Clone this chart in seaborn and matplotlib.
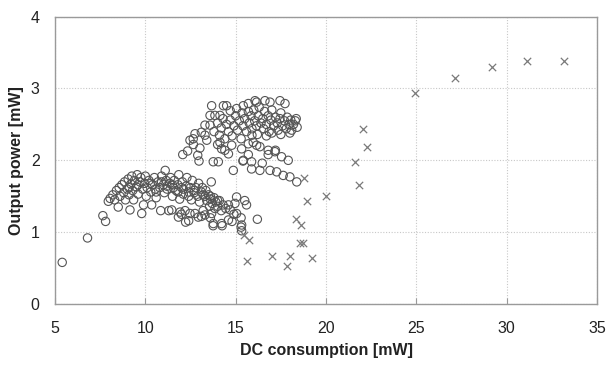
import matplotlib
matplotlib.use("Agg")
import matplotlib.pyplot as plt
import seaborn as sns
import pandas as pd

# circles (measured set)
circ_x = [5.4, 6.8, 7.65, 7.8,
          7.95, 8.05, 8.2, 8.3, 8.4, 8.5, 8.55, 8.6, 8.7, 8.8, 8.85, 8.9, 9.0, 9.05, 9.1, 9.15,
          9.2, 9.25, 9.3, 9.35, 9.4, 9.5, 9.55, 9.6, 9.7, 9.75, 9.8, 9.85, 9.9, 9.95, 10.0, 10.05,
          10.1, 10.2, 10.3, 10.35, 10.4, 10.5, 10.55, 10.6, 10.7, 10.8, 10.85, 10.9, 11.0, 11.05,
          11.1, 11.15, 11.2, 11.3, 11.35, 11.4, 11.5, 11.55, 11.6, 11.7, 11.8, 11.85, 11.9, 12.0,
          12.05, 12.1, 12.2, 12.25, 12.3, 12.4, 12.5, 12.55, 12.6, 12.7, 12.75, 12.8, 12.9, 12.95,
          13.0, 13.1, 13.15, 13.2, 13.3, 13.35, 13.4, 13.5, 13.55, 13.6, 13.65, 13.7, 13.8, 13.85,
          13.9, 14.0, 14.1, 14.2, 14.3, 14.45, 13.75, 14.25, 14.8, 14.6, 14.9, 15.3, 15.6, 16.2,
          15.3, 12.4, 13.1, 13.6, 12.0, 11.83, 12.23, 13.76, 14.22, 14.6, 15.33, 15.33, 14.96,
          15.05, 15.5, 14.7, 15.05, 13.3, 13.67, 12.47, 12.93, 11.46, 11.92,
          9.6, 10.3, 10.9, 11.5, 12.1, 12.7, 13.2, 13.6, 14.0, 9.1, 10.6, 11.2, 11.8, 12.4,
          # upper cluster
          12.07, 12.34, 12.47, 12.65, 12.66, 12.75, 12.9, 13.02, 12.97, 13.1, 13.3, 13.4, 13.3,
          13.58, 13.58, 13.85, 14.13, 13.67, 14.32, 14.5, 14.7, 15.05, 15.42, 15.7, 16.16, 16.07,
          16.62, 16.9, 17.45, 17.73,
          13.8, 14.0, 14.1, 14.2, 14.3, 14.4, 14.5, 14.6, 14.7, 14.8, 14.9, 15.0, 15.1, 15.2, 15.3,
          15.35, 15.4, 15.5, 15.6, 15.7, 15.75, 15.85, 15.9, 16.0, 16.05, 16.15, 16.25, 16.3, 16.4,
          16.5, 16.55, 16.6, 16.7, 16.8, 16.85, 16.95, 17.0, 17.1, 17.2, 17.3, 17.35, 17.45, 17.5,
          17.6, 17.7, 17.8, 17.85, 17.95, 18.05, 18.1, 18.2, 18.3, 18.4, 18.35, 14.0, 14.4, 15.9,
          16.2, 16.7, 17.0, 17.5, 18.0,
          14.13, 14.22, 14.78, 14.6, 15.33, 15.7, 15.97, 16.16, 16.34, 16.8, 17.17, 17.54, 17.91,
          13.76, 14.04, 14.87, 15.42, 15.88, 15.88, 16.34, 16.9, 17.27, 17.63, 18.0, 18.38, 15.4,
          15.7, 16.47, 16.8, 17.2]
circ_y = [0.58, 0.92, 1.23, 1.15,
          1.43, 1.47, 1.52, 1.45, 1.58, 1.35, 1.62, 1.50, 1.66, 1.55, 1.70, 1.45, 1.60, 1.74, 1.52, 1.31,
          1.67, 1.78, 1.58, 1.45, 1.72, 1.63, 1.80, 1.53, 1.70, 1.76, 1.26, 1.60, 1.38, 1.68, 1.78, 1.50,
          1.62, 1.72, 1.56, 1.38, 1.66, 1.76, 1.60, 1.48, 1.70, 1.62, 1.30, 1.78, 1.66, 1.55,
          1.86, 1.72, 1.60, 1.30, 1.68, 1.76, 1.50, 1.62, 1.72, 1.58, 1.66, 1.80, 1.46, 1.62,
          1.70, 1.53, 1.30, 1.64, 1.76, 1.56, 1.62, 1.45, 1.72, 1.55, 1.26, 1.62, 1.50, 1.68,
          1.42, 1.56, 1.62, 1.30, 1.50, 1.58, 1.44, 1.52, 1.36, 1.46, 1.70, 1.40, 1.48, 1.33,
          1.42, 1.36, 1.44, 1.30, 1.38, 1.33, 1.09, 1.09, 1.15, 1.38, 1.25, 1.20, 1.38, 1.18,
          1.07, 1.16, 1.22, 1.20, 1.25, 1.21, 1.14, 1.12, 1.12, 1.17, 1.10, 1.02, 1.40,
          1.49, 1.44, 1.31, 1.26, 1.24, 1.26, 1.26, 1.21, 1.31, 1.28,
          1.66, 1.68, 1.70, 1.66, 1.60, 1.58, 1.52, 1.50, 1.44, 1.62, 1.56, 1.64, 1.56, 1.50,
          # upper cluster
          2.08, 2.13, 2.28, 2.30, 2.22, 2.37, 2.07, 2.17, 1.99, 2.39, 2.35, 2.28, 2.49,
          2.49, 2.625, 2.625, 2.625, 2.76, 2.76, 2.76, 2.69, 2.72, 2.76, 2.79, 2.81, 2.83,
          2.83, 2.81, 2.83, 2.79,
          2.40, 2.52, 2.35, 2.45, 2.58, 2.30, 2.50, 2.40, 2.56, 2.34, 2.48, 2.62, 2.42, 2.55, 2.30,
          2.66, 2.48, 2.58, 2.40, 2.68, 2.52, 2.62, 2.44, 2.70, 2.55, 2.48, 2.62, 2.74, 2.52,
          2.58, 2.44, 2.68, 2.50, 2.62, 2.40, 2.56, 2.70, 2.48, 2.60, 2.52, 2.42, 2.58, 2.66,
          2.48, 2.55, 2.44, 2.60, 2.50, 2.56, 2.42, 2.50, 2.55, 2.46, 2.58, 2.22, 2.14, 2.35,
          2.36, 2.34, 2.38, 2.36, 2.38,
          2.25, 2.16, 2.21, 2.09, 2.16, 2.23, 2.25, 2.21, 2.19, 2.14, 2.12, 2.05, 2.00,
          1.98, 1.98, 1.86, 2.00, 1.98, 1.88, 1.86, 1.86, 1.84, 1.79, 1.77, 1.70, 1.99,
          2.08, 1.96, 2.08, 2.14]

# crosses
cross_x = [15.46, 15.74, 15.6, 17.0, 17.84, 18.0, 18.34, 18.6, 18.56, 18.72, 18.78, 18.95,
           19.2, 20.0, 21.6, 21.83, 22.05, 22.27, 24.92, 27.14, 29.18, 31.12, 33.17]
cross_y = [0.96, 0.89, 0.60, 0.67, 0.53, 0.67, 1.19, 1.10, 0.85, 0.85, 1.75, 1.44,
           0.64, 1.51, 1.98, 1.65, 2.44, 2.18, 2.94, 3.15, 3.30, 3.38, 3.38]

x_ticks = [5, 10, 15, 20, 25, 30, 35]
y_ticks = [0, 1, 2, 3, 4]

df_c = pd.DataFrame({"dc": circ_x, "out": circ_y})
df_x = pd.DataFrame({"dc": cross_x, "out": cross_y})

sns.set_style("white")
plt.rcParams["font.family"] = ["Liberation Sans", "DejaVu Sans"]

fig = plt.figure(figsize=(6.07, 3.69), dpi=100)
ax = fig.add_axes([0.0906, 0.176, 0.893, 0.779])

sns.scatterplot(data=df_c, x="dc", y="out", ax=ax, marker="o", s=36,
                facecolors="none", edgecolor="#555555", linewidth=0.8, zorder=3)
sns.scatterplot(data=df_x, x="dc", y="out", ax=ax, marker="x", s=28,
                color="#7a7a7a", linewidth=0.9, zorder=3)

ax.set_xlim(5, 35)
ax.set_ylim(0, 4)
ax.set_xticks(x_ticks)
ax.set_yticks(y_ticks)
ax.grid(True, color="#c8c8c8", linestyle=(0, (1, 1.5)), linewidth=0.8, zorder=0)
for sp in ax.spines.values():
    sp.set_color("#9a9a9a")
    sp.set_linewidth(1.0)
ax.tick_params(axis="x", direction="in", length=4, color="#9a9a9a", labelsize=11.5,
               labelcolor="#222222", pad=12.5, bottom=True)
ax.tick_params(axis="y", length=0, labelsize=11.5, labelcolor="#222222", pad=11)
ax.set_xlabel("DC consumption [mW]", fontsize=11.5, fontweight="bold", color="#222222", labelpad=5)
ax.set_ylabel("Output power [mW]", fontsize=11.5, fontweight="bold", color="#222222", labelpad=5)

fig.savefig("out.png", dpi=100)
